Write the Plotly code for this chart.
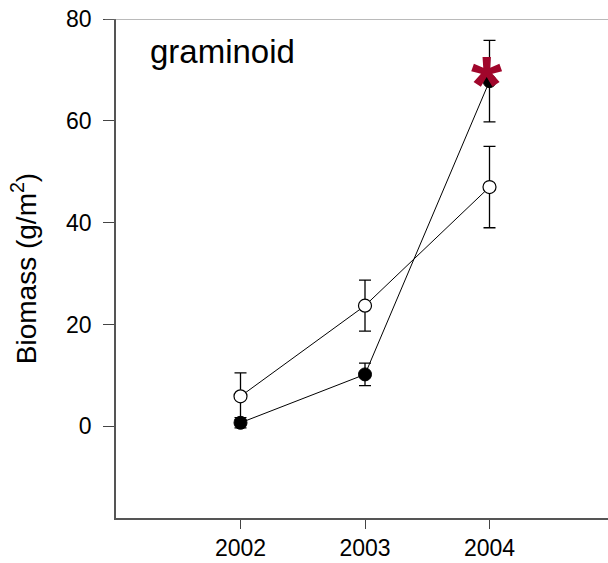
import plotly.graph_objects as go

# Graminoid biomass by year for two treatments
years = [2002, 2003, 2004]
filled_mean = [0.7, 10.2, 67.8]
filled_err = [1.0, 2.2, 8.0]
open_mean = [5.9, 23.7, 47.0]
open_err = [4.6, 5.0, 8.0]

y_ticks = [0, 20, 40, 60, 80]
x_ticks = [2002, 2003, 2004]

FONT = "Liberation Sans, Arial, sans-serif"

fig = go.Figure()

fig.add_trace(go.Scatter(
    x=years, y=filled_mean,
    error_y=dict(type="data", array=filled_err, color="black", thickness=1.3, width=6),
    mode="lines+markers",
    line=dict(color="black", width=1),
    marker=dict(symbol="circle", size=13, color="black", line=dict(color="black", width=1)),
    showlegend=False,
))

fig.add_trace(go.Scatter(
    x=years, y=open_mean,
    error_y=dict(type="data", array=open_err, color="black", thickness=1.3, width=6),
    mode="lines+markers",
    line=dict(color="black", width=1),
    marker=dict(symbol="circle", size=13, color="white", line=dict(color="black", width=1.2)),
    showlegend=False,
))

# Significance marker on the 2004 filled point
fig.add_annotation(
    x=years[2], y=filled_mean[2], xref="x", yref="y",
    text="<b>*</b>", showarrow=False,
    font=dict(family=FONT, size=80, color="#A0062B"),
    xanchor="center", yanchor="middle", xshift=-3, yshift=-3,
)

# Panel label
fig.add_annotation(
    xref="paper", yref="paper",
    x=(148 - 116) / 492, xanchor="left",
    y=1 - (52 - 19) / 499, yanchor="middle",
    text="graminoid", showarrow=False,
    font=dict(family=FONT, size=33, color="black"),
)

# Top frame line
fig.add_shape(type="line", xref="paper", yref="y", x0=-11 / 492, x1=1, y0=80, y1=80,
              line=dict(color="#777777", width=1))

fig.update_layout(
    width=608, height=563,
    margin=dict(l=116, r=0, t=19, b=45),
    plot_bgcolor="white", paper_bgcolor="white",
    font=dict(family=FONT, color="black"),
    xaxis=dict(
        range=[2001, 2001 + 492 / 124.5],
        tickvals=x_ticks, ticktext=[str(v) for v in x_ticks],
        ticks="outside", ticklen=9, tickwidth=1.2, tickcolor="#444",
        showline=True, linecolor="#555", linewidth=1.5,
        showgrid=False, zeroline=False,
        tickfont=dict(size=23, family=FONT, color="black"),
    ),
    yaxis=dict(
        range=[-18, 80],
        tickvals=y_ticks,
        ticks="outside", ticklen=11, tickwidth=1.2, tickcolor="#444",
        showline=True, linecolor="#555", linewidth=1.5,
        showgrid=False, zeroline=False,
        ticklabelstandoff=7,
        tickfont=dict(size=23, family=FONT, color="black"),
        title=dict(text="Biomass (g/m<sup>2</sup>)", font=dict(size=28, family=FONT, color="black"),
                   standoff=21),
    ),
)

fig.write_html("out.html")
